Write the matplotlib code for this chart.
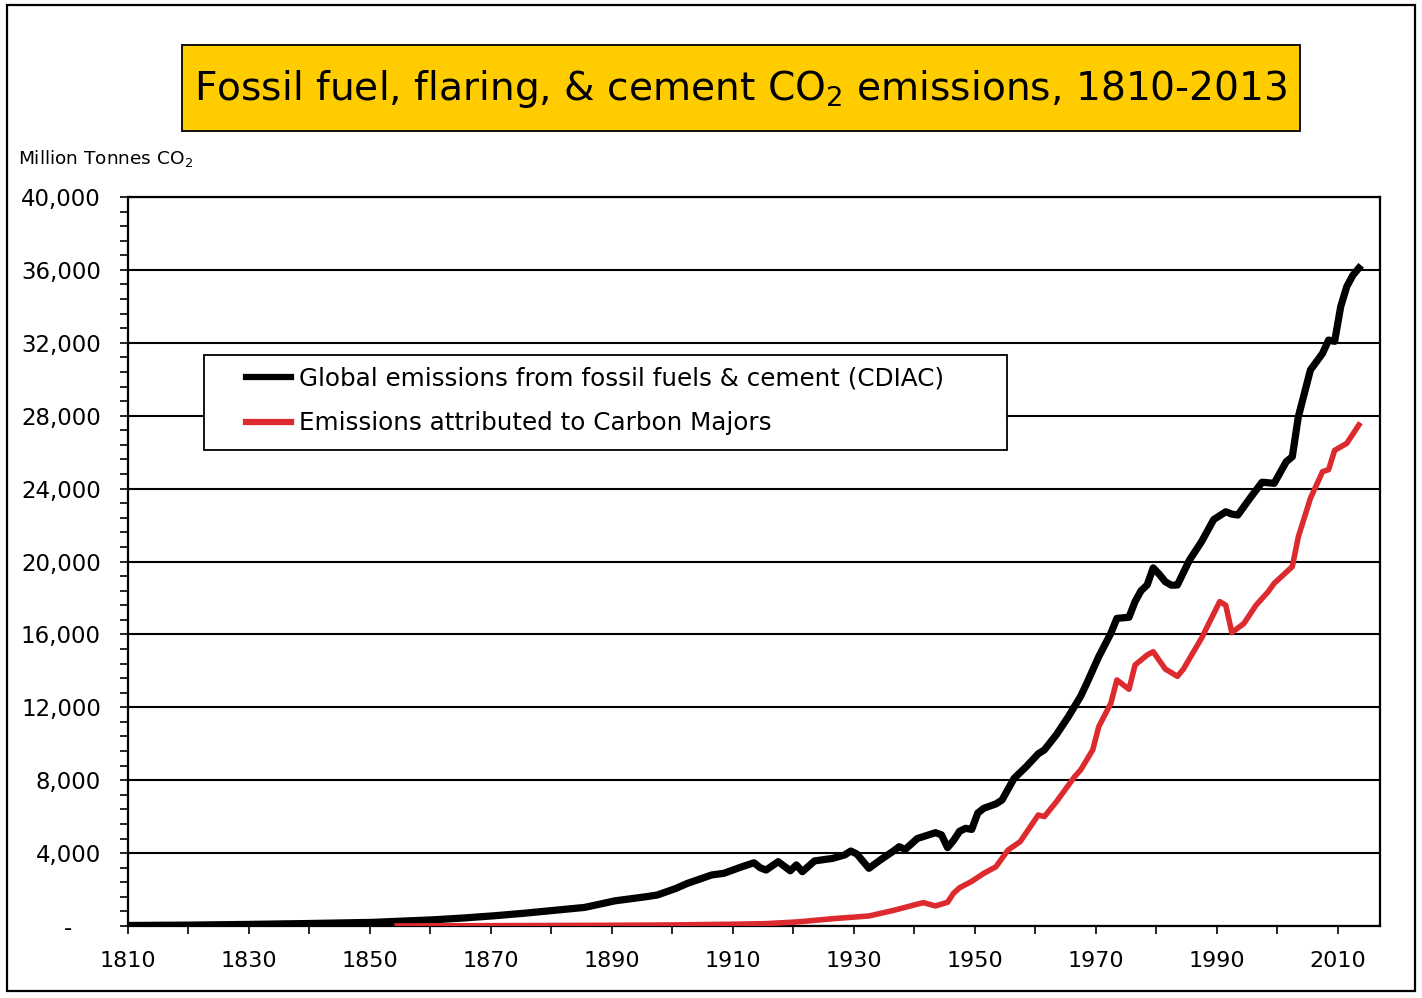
import matplotlib.pyplot as plt
from matplotlib.patches import Rectangle
from matplotlib.ticker import MultipleLocator, FixedLocator, FuncFormatter

# global emissions from fossil fuels & cement (CDIAC), million tonnes CO2
years_global = [1810, 1820, 1830, 1840, 1850, 1860, 1865, 1870, 1875, 1880,
                1885, 1890, 1895, 1897, 1900, 1902, 1906, 1908, 1911, 1913,
                1914, 1915, 1917, 1919, 1920, 1921, 1923, 1926, 1928, 1929,
                1930, 1932, 1934, 1936, 1937, 1938, 1940, 1943, 1944, 1945,
                1946, 1947, 1948, 1949, 1950, 1951, 1953, 1954, 1956, 1958,
                1960, 1961, 1963, 1965, 1967, 1968, 1970, 1972, 1973, 1975,
                1976, 1977, 1978, 1979, 1980, 1981, 1982, 1983, 1985, 1987,
                1989, 1991, 1992, 1993, 1995, 1997, 1999, 2001, 2002, 2003,
                2004, 2005, 2007, 2008, 2009, 2010, 2011, 2012, 2013]
global_em = [30, 50, 90, 140, 200, 340, 440, 560, 700, 860,
             1020, 1380, 1600, 1700, 2050, 2340, 2800, 2890, 3250, 3470,
             3200, 3070, 3530, 3030, 3350, 2980, 3570, 3710, 3900, 4115,
             3950, 3165, 3650, 4100, 4350, 4200, 4800, 5120, 5000, 4300,
             4700, 5200, 5360, 5300, 6200, 6460, 6700, 6910, 8100, 8740,
             9450, 9660, 10500, 11500, 12600, 13300, 14780, 16060, 16880, 16940,
             17800, 18400, 18710, 19650, 19300, 18890, 18700, 18710, 20080, 21090,
             22300, 22730, 22600, 22550, 23470, 24350, 24290, 25475, 25750, 27950,
             29230, 30510, 31420, 32150, 32080, 33980, 35080, 35700, 36100]

# emissions attributed to Carbon Majors
years_majors = [1854, 1860, 1870, 1880, 1890, 1900, 1910, 1915, 1920, 1926,
                1932, 1936, 1940, 1941, 1943, 1945, 1946, 1947, 1949, 1951,
                1953, 1955, 1957, 1960, 1961, 1963, 1966, 1967, 1969, 1970,
                1972, 1973, 1975, 1976, 1978, 1979, 1981, 1983, 1984, 1987,
                1990, 1991, 1992, 1994, 1996, 1998, 1999, 2002, 2003, 2005,
                2007, 2008, 2009, 2011, 2013]
majors_em = [0, 10, 20, 30, 40, 60, 100, 130, 220, 400,
             550, 850, 1200, 1280, 1100, 1300, 1800, 2100, 2450, 2890,
             3250, 4170, 4625, 6090, 6000, 6820, 8190, 8560, 9660, 10935,
             12220, 13500, 12990, 14320, 14870, 15050, 14100, 13700, 14100, 15800,
             17800, 17600, 16100, 16600, 17600, 18340, 18800, 19720, 21360, 23470,
             24930, 25040, 26100, 26480, 27490]

year_labels = list(range(1810, 2011, 20))

W, H = 1422, 998
fig = plt.figure(figsize=(W / 100, H / 100), dpi=100)
plt.rcParams['font.family'] = 'DejaVu Sans'

ax = fig.add_axes([128 / W, 1 - 926 / H, (1380 - 128) / W, (926 - 197) / H])

# excel category axis: each year's point sits in the middle of its slot
xg = [y + 0.5 for y in years_global]
xm = [y + 0.5 for y in years_majors]
ax.plot(xg, global_em, color='black', lw=5.2, solid_joinstyle='round', zorder=3)
ax.plot(xm, majors_em, color='#DD2A2E', lw=4, solid_joinstyle='round', zorder=4)

ax.set_xlim(1810, 2017)
ax.set_ylim(0, 40000)
ax.xaxis.set_major_locator(FixedLocator(year_labels))
ax.xaxis.set_minor_locator(MultipleLocator(10))
ax.yaxis.set_major_locator(MultipleLocator(4000))
ax.yaxis.set_minor_locator(MultipleLocator(800))
ax.yaxis.set_major_formatter(FuncFormatter(lambda v, p: '-    ' if v == 0 else f'{int(v):,}'))
ax.tick_params(axis='both', which='both', direction='out', length=6, width=1.2, color='black')
ax.tick_params(axis='y', labelsize=16.5, pad=13.5)
ax.tick_params(axis='x', labelsize=16, pad=12)
ax.grid(axis='y', which='major', color='black', lw=1.5, zorder=1)
for s in ax.spines.values():
    s.set_linewidth(1.6)

# legend frame + entries
ax.add_patch(Rectangle((204 / W, 1 - 450 / H), (1007 - 204) / W, (450 - 355) / H,
                       transform=fig.transFigure, facecolor='white',
                       edgecolor='black', lw=1.3, zorder=5, clip_on=False))
leg = ax.legend(['Global emissions from fossil fuels & cement (CDIAC)',
                 'Emissions attributed to Carbon Majors'],
                loc='upper left', bbox_to_anchor=(246 / W, 1 - 366.5 / H),
                bbox_transform=fig.transFigure, frameon=False, fontsize=17.7,
                handlelength=1.85, handletextpad=0.3, labelspacing=0.85,
                borderpad=0, borderaxespad=0)
for h in leg.get_lines():
    h.set_linewidth(4.5)
leg.set_zorder(6)

# title box
fig.patches.append(Rectangle((182 / W, 1 - 131 / H), (1300 - 182) / W, (131 - 45) / H,
                             transform=fig.transFigure, facecolor='#FFCC00',
                             edgecolor='black', lw=1.3))
fig.text(741 / W, 1 - 89 / H, 'Fossil fuel, flaring, & cement CO$_2$ emissions, 1810-2013',
         ha='center', va='center', fontsize=28.2)

fig.text(18 / W, 1 - 164 / H, 'Million Tonnes CO$_2$', fontsize=13.3, va='baseline')

# outer border
fig.patches.append(Rectangle((7 / W, 1 - 991 / H), (1415 - 7) / W, (991 - 5) / H,
                             transform=fig.transFigure, fill=False,
                             edgecolor='black', lw=1.6))

fig.savefig('out.png', dpi=100, facecolor='white')
